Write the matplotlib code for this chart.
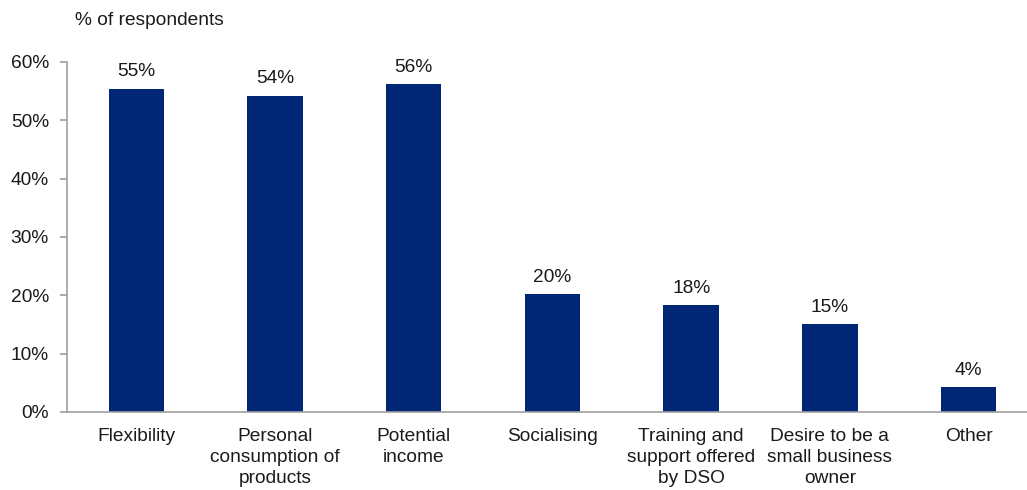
import matplotlib.pyplot as plt
import numpy as np

plt.rcParams['font.family'] = ['Liberation Sans', 'DejaVu Sans']

reasons = ["Flexibility", "Personal\nconsumption of\nproducts", "Potential\nincome",
           "Socialising", "Training and\nsupport offered\nby DSO",
           "Desire to be a\nsmall business\nowner", "Other"]
share = [55.4, 54.2, 56.2, 20.2, 18.3, 15.1, 4.3]

navy = "#002776"
grey = "#a0a0a0"
ink = "#1a1a1a"
fs = 13.8

fig = plt.figure(figsize=(10.27, 4.9), dpi=100)
ax = fig.add_axes([0.0652, 0.1592, 0.9455, 0.7143])

x = np.arange(len(reasons))
ax.bar(x, share, width=0.4, color=navy)
for xi, v in zip(x, share):
    ax.annotate(f"{v:.0f}%", (xi, v), xytext=(0, 6), textcoords="offset points",
                ha="center", va="bottom", fontsize=fs, color=ink)

ax.set_xlim(-0.5, len(reasons) - 0.5)
ax.set_ylim(0, 60)
ax.set_yticks(np.arange(0, 61, 10))
ax.set_yticklabels([f"{t}%" for t in range(0, 61, 10)])
ax.set_xticks(x)
ax.set_xticklabels(reasons, linespacing=1.32)

for side in ("top", "right"):
    ax.spines[side].set_visible(False)
for side in ("left", "bottom"):
    ax.spines[side].set_color(grey)
    ax.spines[side].set_linewidth(1.2)

ax.tick_params(axis="y", length=5, color=grey, width=1.2, labelsize=fs,
               labelcolor=ink, pad=8)
ax.tick_params(axis="x", length=0, labelsize=fs, labelcolor=ink, pad=11.5)

fig.text(0.073, 0.958, "% of respondents", fontsize=fs, color=ink, va="center")

fig.savefig("out.png", dpi=100)
